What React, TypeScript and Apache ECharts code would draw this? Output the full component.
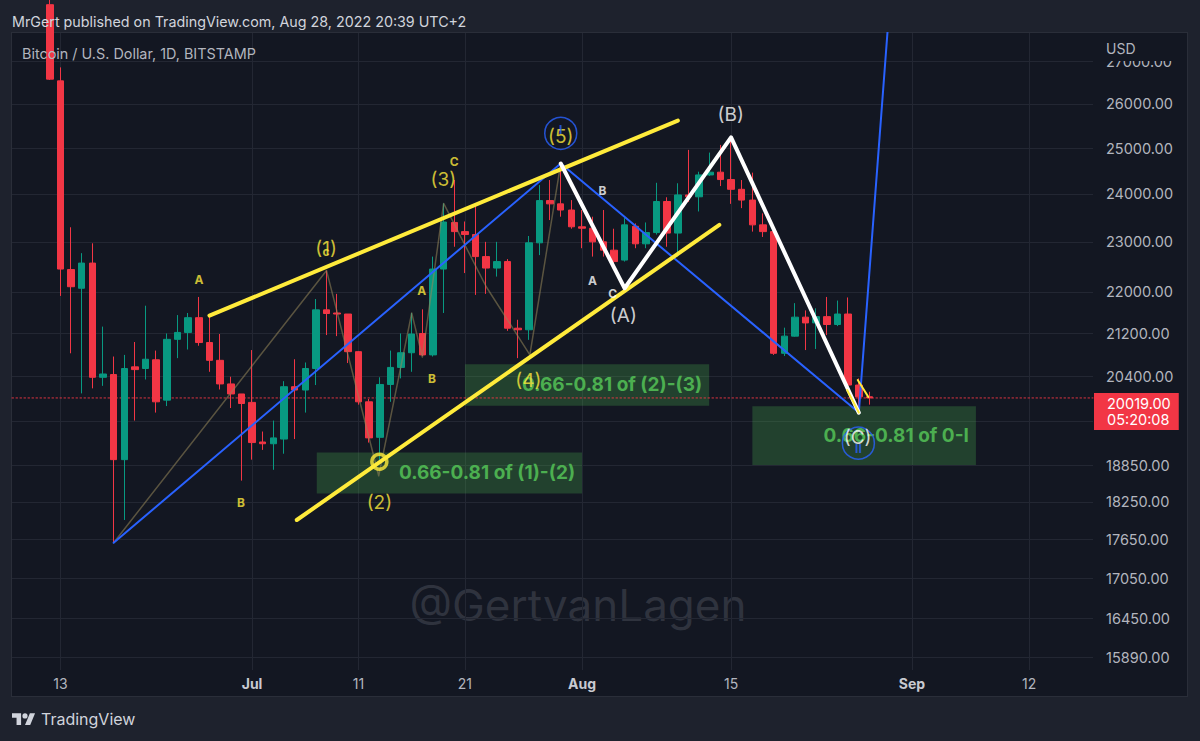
import React, { useEffect, useRef } from 'react';
import * as echarts from 'echarts';

// ---------- data ----------
const dates = [
  '2022-06-12','2022-06-13','2022-06-14','2022-06-15','2022-06-16','2022-06-17','2022-06-18','2022-06-19','2022-06-20','2022-06-21',
  '2022-06-22','2022-06-23','2022-06-24','2022-06-25','2022-06-26','2022-06-27','2022-06-28','2022-06-29','2022-06-30','2022-07-01',
  '2022-07-02','2022-07-03','2022-07-04','2022-07-05','2022-07-06','2022-07-07','2022-07-08','2022-07-09','2022-07-10','2022-07-11',
  '2022-07-12','2022-07-13','2022-07-14','2022-07-15','2022-07-16','2022-07-17','2022-07-18','2022-07-19','2022-07-20','2022-07-21',
  '2022-07-22','2022-07-23','2022-07-24','2022-07-25','2022-07-26','2022-07-27','2022-07-28','2022-07-29','2022-07-30','2022-07-31',
  '2022-08-01','2022-08-02','2022-08-03','2022-08-04','2022-08-05','2022-08-06','2022-08-07','2022-08-08','2022-08-09','2022-08-10',
  '2022-08-11','2022-08-12','2022-08-13','2022-08-14','2022-08-15','2022-08-16','2022-08-17','2022-08-18','2022-08-19','2022-08-20',
  '2022-08-21','2022-08-22','2022-08-23','2022-08-24','2022-08-25','2022-08-26','2022-08-27','2022-08-28'
];
const opens = [
  28400,26540,22440,22070,22570,20390,20440,18950,20580,20550,
  20710,19980,21090,21220,21500,21030,20700,20270,20090,19940,
  19250,19220,19300,20220,20160,20550,21650,21590,21570,20860,
  19950,19330,20260,20570,20840,21200,20800,22450,23400,23210,
  23150,22700,22470,22600,21300,21270,22980,23860,23790,23660,
  23310,23280,23000,22830,22630,23320,22960,23190,23840,23180,
  23980,23940,24410,24470,24310,24100,23870,23350,23210,20830,
  21150,21510,21400,21520,21370,21570,20250,20040
];
const closes = [
  26580,22450,22100,22570,20390,20450,18950,20550,20530,20720,
  19950,21090,21220,21500,21030,20700,20270,20090,19920,19240,
  19220,19320,20220,20160,20550,21650,21580,21570,20860,19950,
  19320,20260,20570,20840,21190,20800,22450,23410,23210,23150,
  22700,22470,22600,21300,21270,22980,23860,23790,23660,23310,
  23280,23000,22830,22600,23350,22960,23190,23840,23180,23980,
  23940,24410,24470,24310,24100,23870,23350,23210,20830,21150,
  21510,21400,21520,21370,21570,20250,20040,20019
];
const lows = [
  26560,21920,20830,20100,20190,20235,17600,17960,19620,20350,
  19760,19875,20740,20900,20970,20490,20170,19840,18600,18950,
  19115,18780,19050,19300,19760,20250,21170,21150,20650,19900,
  19240,18890,19950,20370,20490,20780,20770,21590,22900,22370,
  21940,21960,22300,21250,20740,21080,22730,23450,23520,23270,
  22870,22700,22700,22430,22600,22870,22870,23150,22900,22700,
  23830,23630,24390,24170,23790,23700,23210,23100,20800,20780,
  21140,20890,20910,21170,21340,20220,19860,19900
];
const highs = [
  28550,26860,23300,22770,22970,21330,20770,20800,21040,21730,
  20880,21200,21550,21590,21900,21520,21190,20400,20090,20890,
  19430,19620,20320,20720,20660,21860,22420,21960,21570,20870,
  20000,20390,20880,21200,21590,21660,22700,23800,24300,23420,
  23770,23000,23000,22650,21460,23120,24190,24300,24660,23870,
  23660,23520,23660,23270,23490,23380,23400,24240,23930,24230,
  24960,24480,24900,25070,25200,24300,24460,23590,23210,21310,
  21780,21640,21680,21900,21830,21890,20370,20130
];

const priceTicks = [27000, 26000, 25000, 24000, 23000, 22000, 21200, 20400, 19600, 18850, 18250, 17650, 17050, 16450, 15890];
const dayTicks = ['2022-06-13', '2022-07-01', '2022-07-11', '2022-07-21', '2022-08-01', '2022-08-15', '2022-09-01', '2022-09-12'];
const monthNames = ['Jan', 'Feb', 'Mar', 'Apr', 'May', 'Jun', 'Jul', 'Aug', 'Sep', 'Oct', 'Nov', 'Dec'];
const lastPrice = 20019;
const countdown = '05:20:08';

// drawings: [days after 13 Jun 2022, price]
const channelUpper = [[14.0, 21540], [58.0, 25620]];
const channelLower = [[22.2, 17960], [61.9, 23350]];
const blueWave = [[5, 17600], [47, 24660], [75, 19760], [78, 28800]];
const subWave = [[5, 17600], [25, 22420], [29.9, 18680], [33, 21590], [34, 20760], [36, 23800], [40, 22100], [44.1, 20800], [47, 24660]];
const whiteWave = [[47, 24660], [53, 22070], [63, 25240], [75, 19760]];
const tickA = [[73.9, 20160], [75, 19760]];
const tickB = [[74.9, 20340], [75.9, 20035]];
const yellowBig = [[24.95, 22855, '(1)'], [29.96, 18240, '(2)'], [35.97, 24320, '(3)'], [43.96, 20340, '(4)'], [47.0, 25260, '(5)']];
const yellowSmall = [[24.95, 22800, 'c'], [36.98, 24700, 'C'], [13.02, 22250, 'A'], [16.97, 18240, 'B'], [33.94, 22035, 'A'], [34.91, 20370, 'B']];
const whiteSmall = [[50.91, 24070, 'B'], [49.97, 22230, 'A'], [51.89, 21970, 'C']];
const whiteBig = [[52.88, 21550, '(A)'], [62.97, 25750, '(B)'], [74.89, 19320, '(C)']];
const blueRings = [[47.0, 25330], [74.96, 19230]];
const blueMarks = [[47.0, 25420, 'I'], [74.96, 19140, 'II']];
const yellowRing = [[29.96, 18915]];
const zoneStart = [[24.08, 19070], [38.0, 20630], [65.0, 19870]];
const zoneEnd = [[49.0, 18390], [60.94, 19880], [86.0, 18860]];
const zoneText = ['0.66-0.81 of (1)-(2)', '0.66-0.81 of (2)-(3)', '0.66-0.81 of 0-I'];

// ---------- helpers ----------
const D0 = Date.UTC(2022, 5, 13);
const dayOf = (s: string) => (Date.parse(s + 'T00:00:00Z') - D0) / 86400000;
const L = Math.log;
const FONT = 'Inter, "Noto Sans", sans-serif';
const UP = '#089981';
const DOWN = '#f23645';
const YEL = '#ffeb3b';
const BLUE = '#2962ff';
const X_MIN = -4.55;
const X_MAX = 97;

const pts = (a: number[][]) => a.map((p) => [p[0], L(p[1])]);
const lbl = (a: any[][]) => a.map((p) => [p[0], L(p[1]), p[2]]);

function lineSeries(data: number[][], color: string, width: number, z = 5, opacity = 1, type: any = 'solid') {
  return {
    type: 'line', data: pts(data), symbol: 'none', silent: true, z,
    lineStyle: { color, width, opacity, type, cap: 'round', join: 'round' },
  };
}
function textSeries(data: any[][], color: string, size: number, weight: string) {
  return {
    type: 'scatter', data: lbl(data), symbolSize: 1, silent: true, z: 8,
    itemStyle: { color: 'transparent' },
    label: {
      show: true, position: 'inside', color, fontSize: size, fontWeight: weight, fontFamily: FONT,
      formatter: (p: any) => p.value[2],
    },
  };
}

const TVLogo = echarts.graphic.extendPath('M14 22H7V11H0V4h14v18zM28 22h-8l7.5-18h8L28 22zM24 8a4 4 0 1 1 -8 0a4 4 0 1 1 8 0z', {});
echarts.graphic.registerShape('tvmark', TVLogo);

export default function App() {
  const ref = useRef<HTMLDivElement>(null);
  useEffect(() => {
    if (!ref.current) return;
    const chart = echarts.init(ref.current, null, { renderer: 'svg' });
    const candles = dates.map((s, i) => [dayOf(s), L(opens[i]), L(closes[i]), L(lows[i]), L(highs[i])]);
    const tickDays = dayTicks.map(dayOf);
    const tickLn = priceTicks.map(L);
    const priceLine: any = lineSeries([[X_MIN, lastPrice], [X_MAX, lastPrice]], DOWN, 1, 1.5, 0.9, [1.5, 2.5]);
    priceLine.markLine = {
      silent: true, symbol: ['none', 'none'],
      lineStyle: { color: 'transparent', width: 1 },
      label: {
        show: true, position: 'end', distance: 1, offset: [0, 8.5],
        backgroundColor: DOWN, padding: [3, 8, 3, 13],
        formatter: '{a|' + lastPrice.toFixed(2) + '}\n{a|' + countdown + '}',
        rich: { a: { color: '#ffffff', fontSize: 14.5, lineHeight: 15.5, fontFamily: FONT } },
      },
      data: [{ yAxis: L(lastPrice) }],
    };
    const option: any = {
      animation: false,
      backgroundColor: 'transparent',
      grid: { left: 12, right: 107, top: 33, bottom: 71, containLabel: false, outerBoundsMode: 'none' },
      xAxis: {
        type: 'value', min: X_MIN, max: X_MAX,
        axisLine: { show: false }, axisTick: { show: false, customValues: tickDays },
        splitLine: { show: true, lineStyle: { color: '#232733', width: 1 } },
        axisLabel: {
          customValues: tickDays, margin: 6, color: '#b2b5be', fontSize: 14, fontFamily: FONT,
          formatter: (v: number) => {
            const dt = new Date(D0 + Math.round(v) * 86400000);
            return dt.getUTCDate() === 1 ? '{m|' + monthNames[dt.getUTCMonth()] + '}' : String(dt.getUTCDate());
          },
          rich: { m: { fontWeight: 'bold', color: '#c8cad1', fontSize: 14, fontFamily: FONT } },
        },
      },
      yAxis: {
        type: 'value', position: 'right', min: L(15717), max: L(27694), scale: true,
        axisLine: { show: false }, axisTick: { show: false, customValues: tickLn },
        splitLine: { show: true, lineStyle: { color: '#232733', width: 1 } },
        axisLabel: {
          customValues: tickLn, margin: 13, color: '#b2b5be', fontSize: 14.5, fontFamily: FONT,
          formatter: (v: number) => Math.exp(v).toFixed(2),
        },
      },
      series: [
        {
          type: 'line', data: [], z: 1, silent: true,
          markArea: {
            silent: true,
            itemStyle: { color: 'rgba(76,175,80,0.28)' },
            label: { show: true, position: 'insideRight', distance: 7, color: '#4caf50', fontSize: 19, fontWeight: 'bold', fontFamily: FONT },
            data: zoneText.map((t, i) => [
              { name: t, coord: [zoneStart[i][0], L(zoneStart[i][1])] },
              { coord: [zoneEnd[i][0], L(zoneEnd[i][1])] },
            ]),
          },
        },
        priceLine,
        {
          type: 'candlestick', data: candles, barWidth: 7, z: 2, silent: true,
          itemStyle: { color: UP, color0: DOWN, borderColor: UP, borderColor0: DOWN, borderWidth: 1 },
        },
        lineSeries(subWave, 'rgba(150,135,90,0.55)', 1.5, 4),
        lineSeries(blueWave, BLUE, 2, 5),
        lineSeries(channelUpper, YEL, 4, 6),
        lineSeries(channelLower, YEL, 4, 6),
        lineSeries(whiteWave, '#ffffff', 4, 6),
        lineSeries(tickA, YEL, 2, 6),
        lineSeries(tickB, YEL, 2, 6),
        {
          type: 'scatter', data: pts(blueRings), symbolSize: 32, silent: true, z: 7,
          itemStyle: { color: 'transparent', borderColor: BLUE, borderWidth: 1.5 },
        },
        {
          type: 'scatter', data: pts(yellowRing), symbolSize: 15, silent: true, z: 7,
          itemStyle: { color: 'transparent', borderColor: YEL, borderWidth: 3.5 },
        },
        textSeries(yellowBig, YEL, 19, 'normal'),
        textSeries(yellowSmall, YEL, 12, 'bold'),
        textSeries(whiteSmall, '#ffffff', 12, 'bold'),
        textSeries(whiteBig, '#ffffff', 19, 'normal'),
        textSeries(blueMarks, BLUE, 12, 'bold'),
      ],
      graphic: [
        { type: 'text', x: 12, y: 21, z: 50, style: { text: 'MrGert published on TradingView.com, Aug 28, 2022 20:39 UTC+2', fill: '#d1d4dc', fontSize: 14.3, fontFamily: FONT, verticalAlign: 'middle' } },
        { type: 'text', x: 22, y: 53, z: 50, style: { text: 'Bitcoin / U.S. Dollar, 1D, BITSTAMP', fill: '#b2b5be', fontSize: 14.4, fontFamily: FONT, verticalAlign: 'middle' } },
        { type: 'rect', z: 50, shape: { x: 1094, y: 33, width: 92, height: 28 }, style: { fill: '#131722' } },
        { type: 'text', x: 1106, y: 48, z: 51, style: { text: 'USD', fill: '#b2b5be', fontSize: 14, fontFamily: FONT, verticalAlign: 'middle' } },
        { type: 'text', x: 578, y: 605, z: 0, style: { text: '@GertvanLagen', fill: 'rgba(120,124,136,0.28)', fontSize: 44, fontFamily: FONT, align: 'center', verticalAlign: 'middle' } },
        { type: 'tvmark', x: 12, y: 710.7, scaleX: 0.65, scaleY: 0.65, z: 50, style: { fill: '#d1d4dc' } },
        { type: 'text', x: 41, y: 719, z: 50, style: { text: 'TradingView', fill: '#d1d4dc', fontSize: 16, fontFamily: FONT, verticalAlign: 'middle' } },
      ],
    };
    chart.setOption(option);
    return () => chart.dispose();
  }, []);
  return (
    <div style={{ position: 'fixed', left: 0, top: 0, width: 1200, height: 741, background: '#1e222d' }}>
      <div style={{ position: 'absolute', left: 11, top: 32, width: 1175, height: 663, background: '#131722', border: '1px solid #2a2e39' }} />
      <div ref={ref} style={{ position: 'absolute', left: 0, top: 0, width: 1200, height: 741 }} />
    </div>
  );
}
